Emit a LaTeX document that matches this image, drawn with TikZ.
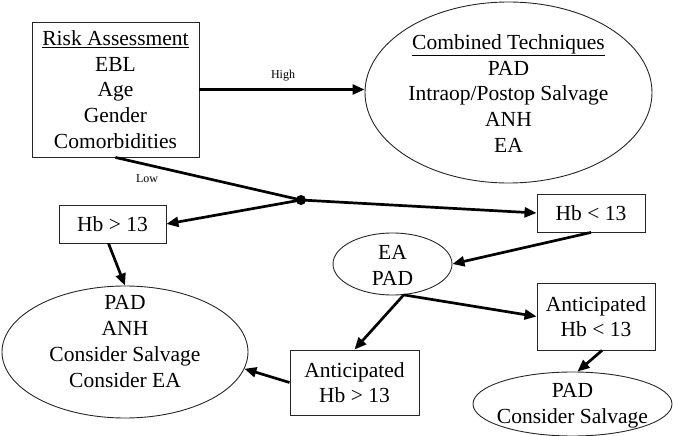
\documentclass[tikz,border=0pt]{standalone}
\usepackage{fontspec}
\setmainfont{Liberation Serif}
\usetikzlibrary{arrows.meta,shapes.geometric}
\begin{document}
\begin{tikzpicture}[x=1pt,y=-1pt,
  txt/.style={align=center, font=\fontsize{21.5}{25.7}\selectfont, inner sep=0pt},
  boxnode/.style={txt, draw=black!85, line width=0.9pt, rectangle},
  ellnode/.style={draw=black!85, line width=0.9pt, ellipse, inner sep=0pt},
  arr/.style={line width=2.7pt, -{Triangle[length=12pt,width=10pt]}},
  plain/.style={line width=2.7pt},
  lbl/.style={font=\fontsize{12}{14}\selectfont, inner sep=0pt}]
\useasboundingbox (0,0) rectangle (673,436);

% boxes
\node[boxnode, minimum width=167pt, minimum height=135pt] (risk) at (115.5,89.5)
  {\underline{Risk Assessment}\\EBL\\Age\\Gender\\Comorbidities};
\node[boxnode, minimum width=107pt, minimum height=38pt] (hbhi) at (112.5,224) {Hb > 13};
\node[boxnode, minimum width=108pt, minimum height=38pt] (hblo) at (591,213) {Hb < 13};
\node[boxnode, minimum width=129pt, minimum height=65pt] (antgt) at (354.5,382.5) {Anticipated\\Hb > 13};
\node[boxnode, minimum width=118pt, minimum height=67pt] (antlt) at (596,316.5) {Anticipated\\Hb < 13};

% ellipses
\node[ellnode, minimum width=287pt, minimum height=181pt] (comb) at (508.5,92.5) {};
\node[txt] (combt) at (508.5,93.5) {\underline{Combined Techniques}\\PAD\\Intraop/Postop Salvage\\ANH\\EA};
\node[ellnode, minimum width=246pt, minimum height=132pt] (big) at (125,352) {};
\node[txt] (bigt) at (125,341.5) {PAD\\ANH\\Consider Salvage\\Consider EA};
\node[ellnode, minimum width=119pt, minimum height=62pt] (eapad) at (392.5,264) {};
\node[txt] (eapadt) at (392.5,265.5) {EA\\PAD};
\node[ellnode, minimum width=199pt, minimum height=64pt] (pcs) at (572.5,404) {};
\node[txt] (pcst) at (572.5,405.5) {PAD\\Consider Salvage};

% junction dot
\node[circle, fill=black, inner sep=0pt, minimum size=10pt] (dot) at (301,200) {};

% labels
\node[lbl] (high) at (283,76) {High};
\node[lbl] (low) at (147,179) {Low};

% connectors
\draw[arr] (risk.east) -- (risk.east -| comb.west);
\draw[plain] (risk.south) -- (dot.center);
\draw[arr] (dot.center) -- (hbhi.east);
\draw[arr] (dot.center) -- (hblo.west);
\draw[arr] (hblo.south) -- (eapad.east);
\draw[arr] (eapad.-70) -- (antgt.north);
\draw[arr] (eapad.-70) -- (antlt.west);
\draw[arr] ([xshift=6pt]antlt.south) -- ([xshift=5pt]pcs.north);
\draw[arr] (antgt.west) -- (big.-8);
\draw[arr] ([xshift=-4pt]hbhi.south) -- (big.north);
\end{tikzpicture}
\end{document}
